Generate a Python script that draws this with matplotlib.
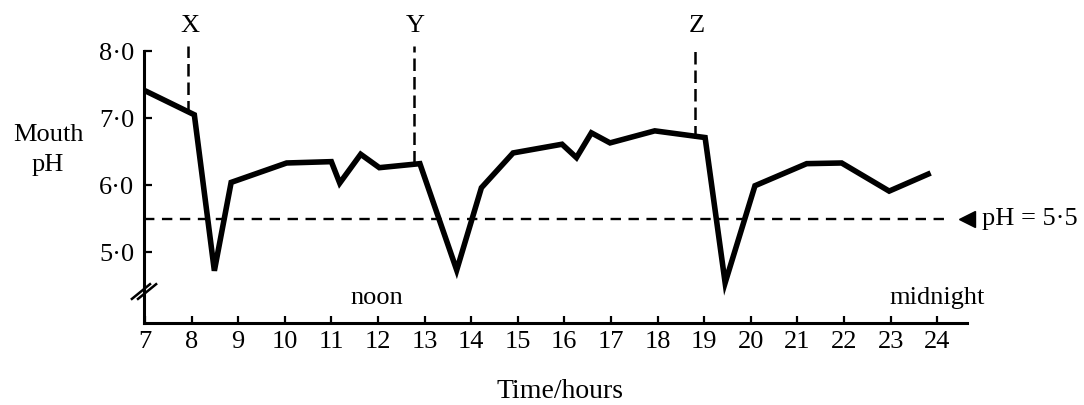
import matplotlib
matplotlib.use("Agg")
import matplotlib.pyplot as plt
import matplotlib.transforms as mtransforms

# ---- data ----
hours = [7.0, 8.06, 8.49, 8.85, 10.04, 11.0, 11.18, 11.63, 12.03, 12.9,
         13.69, 14.22, 14.9, 15.95, 16.26, 16.58, 16.98, 17.94, 19.02,
         19.45, 20.09, 21.2, 21.95, 22.97, 23.86]
ph = [7.41, 7.05, 4.72, 6.04, 6.33, 6.35, 6.03, 6.46, 6.26, 6.32,
      4.73, 5.96, 6.48, 6.61, 6.41, 6.78, 6.63, 6.81, 6.71,
      4.54, 5.99, 6.32, 6.33, 5.91, 6.18]
x_ticks = list(range(7, 25))
x_ticklabels = [str(h) for h in x_ticks]
y_ticks = [5.0, 6.0, 7.0, 8.0]
y_ticklabels = ["5·0", "6·0", "7·0", "8·0"]
event_names = ["X", "Y", "Z"]
event_hours = [7.92, 12.77, 18.8]
event_tops = [7.08, 6.33, 6.71]
critical_ph = 5.5
critical_label = "pH = 5·5"

plt.rcParams['font.family'] = ['Liberation Serif', 'DejaVu Serif']
FS = 19

fig = plt.figure(figsize=(10.84, 4.05), dpi=100)
ax = fig.add_axes([144/1084, 82/405, 823/1084, 312/405])
ax.set_xlim(6.98, 24.64)
ax.set_ylim(3.94, 8.6)

for s in ['top', 'right']:
    ax.spines[s].set_visible(False)
ax.spines['left'].set_bounds(3.94, 8.0)
ax.spines['left'].set_linewidth(2.2)
ax.spines['bottom'].set_linewidth(2.2)

ax.plot(hours, ph, color='black', lw=4.0, solid_joinstyle='miter',
        solid_capstyle='butt', zorder=3)

# critical pH dashed line
ax.plot([6.98, 24.23], [critical_ph, critical_ph], color='black', lw=1.7,
        dashes=(4.4, 3.2), zorder=2)
ax.plot([24.64], [critical_ph], marker='<', color='black', markersize=11,
        clip_on=False, linestyle='none')
ax.text(24.96, critical_ph, critical_label, fontsize=FS, va='center',
        ha='left', clip_on=False)

# event vertical dashed lines
for name, h, top in zip(event_names, event_hours, event_tops):
    ax.plot([h, h], [top, 8.07], color='black', lw=1.8, dashes=(5.0, 2.4),
            zorder=2, clip_on=False)
    ax.text(h + 0.04, 8.38, name, fontsize=FS, ha='center', va='center')

ax.set_xticks(x_ticks)
ax.set_xticklabels(x_ticklabels, fontsize=FS)
ax.set_yticks(y_ticks)
ax.set_yticklabels(y_ticklabels, fontsize=FS)
ax.tick_params(axis='x', direction='in', length=5, width=1.6, pad=6)
ax.tick_params(axis='y', direction='in', length=6, width=1.6, pad=7)

ax.text(11.98, 4.31, "noon", fontsize=FS, ha='center', va='center')
ax.text(24.0, 4.31, "midnight", fontsize=FS, ha='center', va='center')

# axis break mark
trans = mtransforms.blended_transform_factory(ax.transAxes, ax.transData)
for dx in (-2.2, 2.2):
    off = trans + mtransforms.ScaledTranslation(dx/72, 0, fig.dpi_scale_trans)
    ax.plot([-0.011, 0.011], [4.30, 4.52], transform=off, color='black',
            lw=1.8, clip_on=False)

fig.text(48/1084, 1 - 150/405, "Mouth\npH", fontsize=FS, ha='center',
         va='center', linespacing=1.5)
fig.text(560/1084, 1 - 392/405, "Time/hours", fontsize=FS + 1, ha='center',
         va='center')

fig.savefig("out.png", dpi=100)
